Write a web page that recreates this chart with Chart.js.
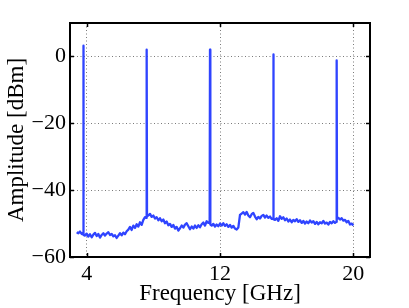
<!DOCTYPE html>
<html>
<head>
<meta charset="utf-8">
<script src="https://cdn.jsdelivr.net/npm/chart.js@4"></script>
<style>
  html, body { margin: 0; padding: 0; background: #fff; }
  #c { display: block; }
</style>
</head>
<body>
<canvas id="c" width="409" height="308"></canvas>
<script>
// ---- data ----
const freqGHz = [
  3.4, 3.5, 3.6, 3.7, 3.78, 3.8, 3.82, 3.9, 4.0, 4.1, 4.2, 4.3, 4.4, 4.5, 4.6, 4.7, 4.8, 4.9,
  5.0, 5.1, 5.2, 5.3, 5.4, 5.5, 5.6, 5.7, 5.8, 5.9, 6.0, 6.1, 6.2, 6.3, 6.4, 6.5,
  6.6, 6.7, 6.8, 6.9, 7.0, 7.1, 7.2, 7.3, 7.4, 7.5, 7.58, 7.6, 7.62, 7.7, 7.8, 7.9, 8.0, 8.1,
  8.2, 8.3, 8.4, 8.5, 8.6, 8.7, 8.8, 8.9, 9.0, 9.1, 9.2, 9.3, 9.4, 9.5, 9.6, 9.7,
  9.8, 9.9, 10.0, 10.1, 10.2, 10.3, 10.4, 10.5, 10.6, 10.7, 10.8, 10.9, 11.0, 11.1,
  11.2, 11.3, 11.38, 11.4, 11.42, 11.5, 11.6, 11.7, 11.8, 11.9, 12.0, 12.1, 12.2, 12.3, 12.4, 12.5,
  12.6, 12.7, 12.8, 12.9, 13.0, 13.1, 13.2, 13.3, 13.4, 13.5, 13.6, 13.7, 13.8, 13.9,
  14.0, 14.1, 14.2, 14.3, 14.4, 14.5, 14.6, 14.7, 14.8, 14.9, 15.0, 15.1, 15.18, 15.2, 15.22, 15.3,
  15.4, 15.5, 15.6, 15.7, 15.8, 15.9, 16.0, 16.1, 16.2, 16.3, 16.4, 16.5, 16.6, 16.7,
  16.8, 16.9, 17.0, 17.1, 17.2, 17.3, 17.4, 17.5, 17.6, 17.7, 17.8, 17.9, 18.0, 18.1,
  18.2, 18.3, 18.4, 18.5, 18.6, 18.7, 18.8, 18.9, 18.98, 19.0, 19.02, 19.1, 19.2, 19.3, 19.4, 19.5,
  19.6, 19.7, 19.8, 19.9, 20.0
];
const ampDbm = [
  -52.6, -52.9, -52.4, -53.1, -52.8, 3.2, -53.4, -53.6, -53.0, -53.9, -53.2, -54.1, -53.3, -52.8, -53.7, -53.1, -54.2, -53.4,
  -52.9, -53.6, -53.0, -52.6, -53.4, -53.1, -53.8, -53.5, -54.3, -53.6, -52.9, -53.5, -52.7, -53.2, -52.3, -51.8,
  -51.0, -51.9, -50.6, -51.3, -50.2, -50.9, -49.6, -50.4, -48.9, -48.1, -48.3, 2.0, -47.8, -47.6, -47.1, -48.0, -47.6, -48.5,
  -48.1, -49.0, -48.4, -49.3, -48.8, -49.9, -49.4, -50.5, -50.1, -51.0, -50.4, -51.5, -51.0, -52.1, -51.4, -50.6,
  -51.2, -50.3, -49.9, -50.8, -51.7, -50.9, -51.5, -50.6, -51.3, -50.5, -51.1, -50.2, -49.7, -50.6,
  -49.3, -49.8, -49.6, 2.0, -50.3, -50.6, -50.1, -50.9, -50.3, -50.8, -50.0, -50.6, -49.9, -50.7, -50.2, -51.0,
  -50.4, -51.2, -50.7, -51.5, -51.8, -51.2, -47.4, -47.0, -46.6, -47.3, -46.5, -47.6, -48.1, -47.2,
  -46.8, -47.9, -48.7, -48.0, -48.5, -47.7, -47.4, -48.2, -47.6, -48.3, -47.9, -48.6, -48.4, 0.6, -48.7, -48.9,
  -48.4, -49.2, -47.8, -48.6, -48.1, -49.0, -48.5, -49.4, -48.8, -49.6, -48.9, -49.3, -48.7, -49.5,
  -49.0, -49.8, -49.2, -50.0, -49.4, -49.9, -49.1, -49.7, -49.3, -50.1, -49.5, -50.2, -49.6, -49.9,
  -49.2, -50.0, -49.7, -50.3, -49.5, -49.9, -49.3, -49.8, -49.5, -1.2, -48.6, -48.3, -48.8, -48.4, -49.1, -48.9,
  -49.6, -49.2, -50.3, -50.0, -50.6
];
const xTicks = [4, 12, 20];
const yTicks = [-60, -40, -20, 0];
const xTitle = 'Frequency [GHz]';
const yTitle = 'Amplitude [dBm]';

// ---- chart ----
const serif = "'Liberation Serif', 'Times New Roman', serif";

const framePlugin = {
  id: 'frame',
  afterDraw(chart) {
    const {ctx, chartArea: a, scales} = chart;
    ctx.save();
    ctx.strokeStyle = '#000';
    ctx.lineWidth = 1.5;
    const tl = 4;
    ctx.beginPath();
    scales.x.ticks.forEach(t => {
      const px = Math.round(scales.x.getPixelForValue(t.value)) + 0.5;
      ctx.moveTo(px, a.bottom); ctx.lineTo(px, a.bottom - tl);
      ctx.moveTo(px, a.top); ctx.lineTo(px, a.top + tl);
    });
    scales.y.ticks.forEach(t => {
      const py = Math.round(scales.y.getPixelForValue(t.value)) + 0.5;
      ctx.moveTo(a.left, py); ctx.lineTo(a.left + tl, py);
      ctx.moveTo(a.right, py); ctx.lineTo(a.right - tl, py);
    });
    ctx.stroke();
    ctx.lineWidth = 2;
    ctx.strokeRect(a.left, a.top, a.right - a.left, a.bottom - a.top);
    ctx.restore();
  }
};

new Chart(document.getElementById('c'), {
  type: 'line',
  data: {
    datasets: [{
      data: freqGHz.map((f, i) => ({x: f, y: ampDbm[i]})),
      borderColor: '#2f44ff',
      borderWidth: 2.3,
      borderJoinStyle: 'round',
      pointRadius: 0,
      tension: 0,
      fill: false
    }]
  },
  options: {
    responsive: false,
    animation: false,
    devicePixelRatio: 1,
    plugins: { legend: { display: false }, tooltip: { enabled: false } },
    layout: { padding: { left: 0, right: 39, top: 23, bottom: 0 } },
    scales: {
      x: {
        type: 'linear', min: 3, max: 21,
        afterBuildTicks: s => { s.ticks = xTicks.map(v => ({value: v})); },
        afterFit: s => { s.height = 51; },
        grid: { color: '#7a7a7a', lineWidth: 1, drawTicks: false },
        border: { display: false, dash: [1, 2.5] },
        ticks: {
          color: '#000', padding: 4, maxRotation: 0, autoSkip: false,
          font: { family: serif, size: 22 },
          callback: v => String(v)
        },
        title: {
          display: true, text: xTitle, color: '#000',
          font: { family: serif, size: 23 }, padding: { top: 0, bottom: 0 }
        }
      },
      y: {
        min: -60, max: 10,
        afterBuildTicks: s => { s.ticks = yTicks.map(v => ({value: v})); },
        afterFit: s => { s.width = 70; },
        grid: { color: '#7a7a7a', lineWidth: 1, drawTicks: false },
        border: { display: false, dash: [1, 2.5] },
        ticks: {
          color: '#000', padding: 4,
          font: { family: serif, size: 22 },
          callback: v => (v < 0 ? '\u2212' + Math.abs(v) : String(v))
        },
        title: {
          display: true, text: yTitle, color: '#000',
          font: { family: serif, size: 23 }, padding: { top: 3, bottom: 0 }
        }
      }
    }
  },
  plugins: [framePlugin]
});
</script>
</body>
</html>
